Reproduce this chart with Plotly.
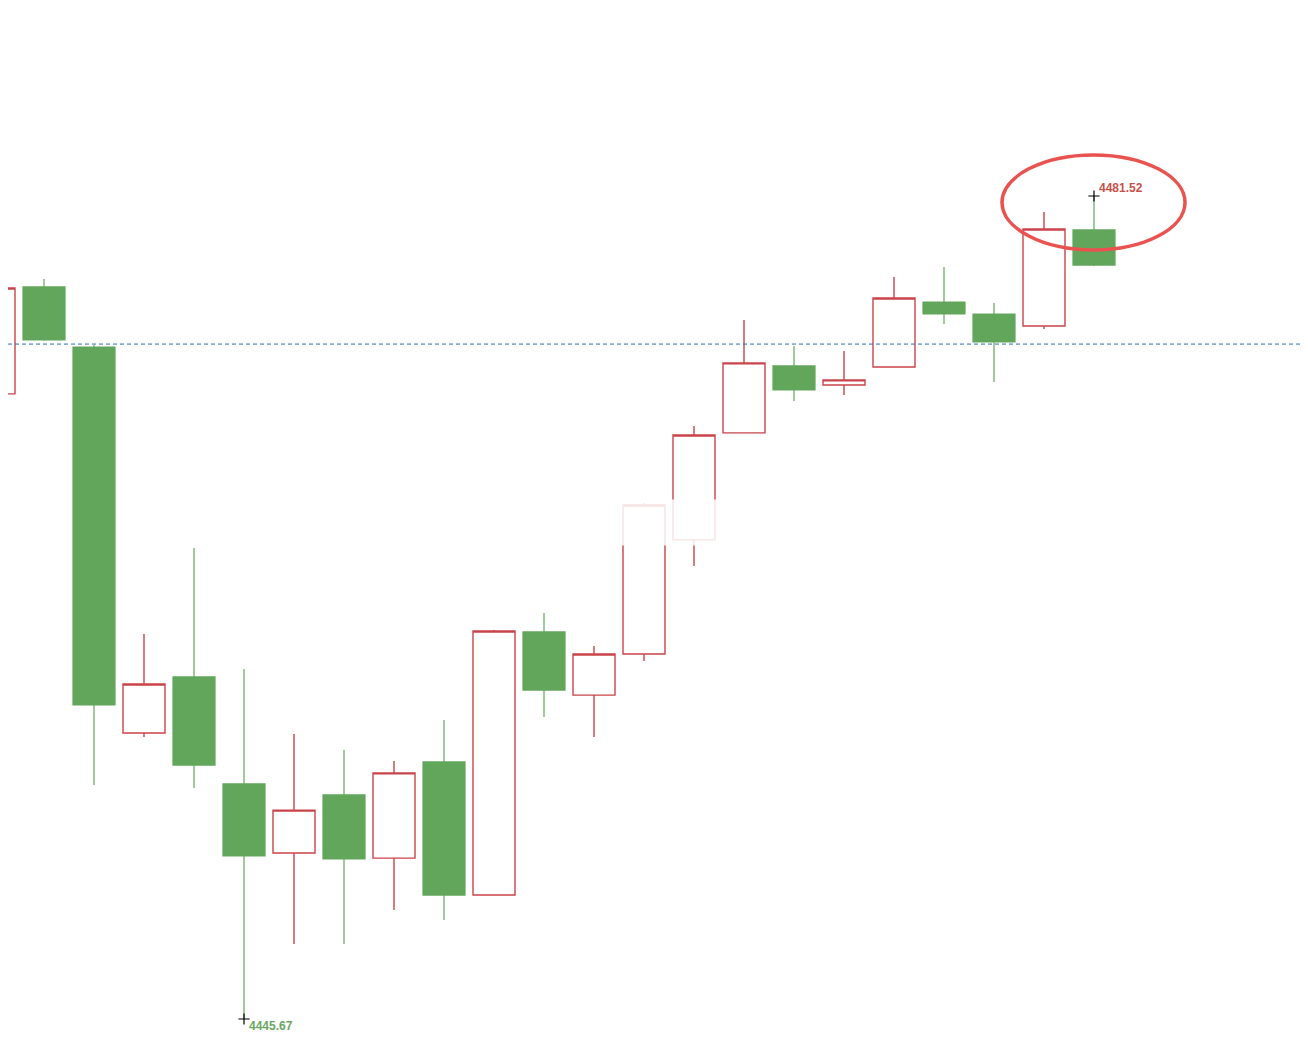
import plotly.graph_objects as go

# candle data (prices)
idx = list(range(23))
opens = [4472.90, 4477.56, 4474.94, 4458.13, 4460.57, 4455.91, 4452.90, 4455.43,
         4452.68, 4456.87, 4451.07, 4462.53, 4459.78, 4461.57, 4466.54, 4471.20,
         4474.12, 4473.29, 4474.07, 4476.90, 4476.38, 4475.86, 4480.04]
highs = [4477.60, 4477.90, 4475.03, 4462.44, 4466.19, 4460.92, 4458.08, 4457.39,
         4456.91, 4458.69, 4462.61, 4463.36, 4461.92, 4468.15, 4471.50, 4476.12,
         4474.99, 4474.77, 4477.99, 4478.43, 4476.86, 4480.82, 4481.52]
lows = [4472.80, 4475.22, 4455.86, 4457.95, 4455.73, 4445.67, 4448.94, 4448.94,
        4450.42, 4449.98, 4451.05, 4458.83, 4457.95, 4461.27, 4465.40, 4471.18,
        4472.59, 4472.85, 4474.05, 4475.94, 4473.42, 4475.73, 4478.47]
closes = [4477.51, 4475.25, 4459.35, 4460.26, 4456.73, 4452.77, 4454.77, 4452.64,
          4456.39, 4451.07, 4462.57, 4460.00, 4461.57, 4468.06, 4471.11, 4474.25,
          4473.07, 4473.51, 4477.08, 4476.38, 4475.16, 4480.08, 4478.51]

ref_level = 4475.07
max_label = "4481.52"
min_label = "4445.67"

up_red = "#C9434A"
down_green = "#62A65C"

fig = go.Figure()

fig.add_trace(go.Candlestick(
    x=idx, open=opens, high=highs, low=lows, close=closes,
    increasing=dict(line=dict(color=up_red, width=1.4), fillcolor="white"),
    decreasing=dict(line=dict(color=down_green, width=1.2), fillcolor=down_green),
    whiskerwidth=0,
    hoverinfo="skip",
    showlegend=False,
))

# extreme markers
hi_i = highs.index(max(highs))
lo_i = lows.index(min(lows))
fig.add_trace(go.Scatter(
    x=[idx[hi_i], idx[lo_i]], y=[highs[hi_i], lows[lo_i]],
    mode="markers",
    marker=dict(symbol="cross-thin", size=8, line=dict(color="black", width=1.2)),
    hoverinfo="skip", showlegend=False,
))

fig.add_annotation(x=idx[hi_i], y=highs[hi_i], text="<b>" + max_label + "</b>",
                   showarrow=False, xanchor="left", yanchor="middle",
                   xshift=3, yshift=8,
                   font=dict(family="Arial", size=12, color="#C8504A"))
fig.add_annotation(x=idx[lo_i], y=lows[lo_i], text="<b>" + min_label + "</b>",
                   showarrow=False, xanchor="left", yanchor="middle",
                   xshift=3, yshift=-7,
                   font=dict(family="Arial", size=12, color="#6AA862"))

# dashed reference line
fig.add_hline(y=ref_level, line=dict(color="#2E6DB8", width=1, dash="4px,3px"))

# highlight ellipse around the latest high
fig.add_shape(type="circle", xref="x", yref="y",
              x0=idx[hi_i] - 1.84, x1=idx[hi_i] + 1.82,
              y0=highs[hi_i] - 2.35, y1=highs[hi_i] + 1.79,
              line=dict(color="#E9524F", width=3.5))

# faded watermark area
fig.add_shape(type="rect", xref="x", yref="y", layer="above",
              x0=11.0, x1=15.42, y0=4466.30, y1=4468.30,
              fillcolor="rgba(255,255,255,0.85)", line=dict(width=0))

fig.update_layout(
    width=1292, height=1035,
    margin=dict(l=0, r=0, t=0, b=0),
    paper_bgcolor="white", plot_bgcolor="white",
    boxgap=0.16, boxgroupgap=0,
    xaxis=dict(range=[0.28, 26.12], visible=False, rangeslider=dict(visible=False)),
    yaxis=dict(range=[4444.625, 4489.709], visible=False),
)

fig.write_html("out.html")
